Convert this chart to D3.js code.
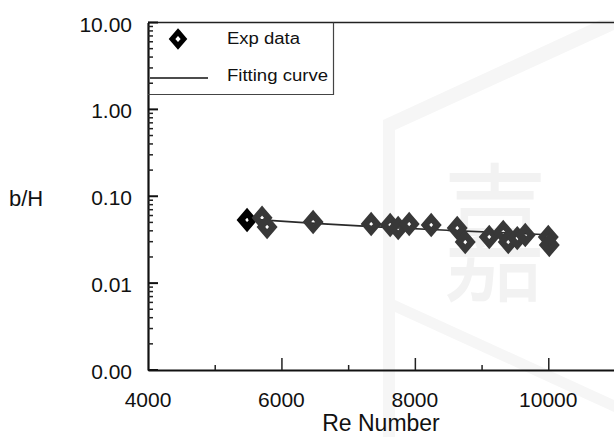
<!DOCTYPE html>
<html>
<head>
<meta charset="utf-8">
<script src="https://cdn.jsdelivr.net/npm/d3@7"></script>
<style>
html,body{margin:0;padding:0;background:#fff;}
svg{display:block;}
text{font-family:"Liberation Sans",Arial,sans-serif;fill:#111;}
</style>
</head>
<body>
<svg id="chart" width="614" height="437"></svg>
<script>
// ---- data ----
const reNumbers = [5485, 5710, 5785, 6475, 7345, 7630, 7750, 7915, 8245, 8635, 8755, 9115, 9325, 9400, 9535, 9655, 10000, 10015];
const bH        = [0.0533, 0.0565, 0.0443, 0.0505, 0.0479, 0.0467, 0.0431, 0.0479, 0.0467, 0.0431, 0.0297, 0.0340, 0.0388, 0.0297, 0.0330, 0.0358, 0.0340, 0.0275];
const fitRe     = [5500, 6500, 7500, 8500, 10000];
const fitBH     = [0.0547, 0.0487, 0.0441, 0.0405, 0.0361];
const xTicks    = [5000, 6000, 7000, 8000, 9000, 10000];
const xLabels   = [4000, 6000, 8000, 10000];
const yLabels   = [10, 1, 0.1, 0.01, 0.001];
const yLabelText = ["10.00", "1.00", "0.10", "0.01", "0.00"];
const legendItems = ["Exp data", "Fitting curve"];

const svg = d3.select("#chart");
const x = d3.scaleLinear().domain([4000, 11000]).range([148, 615]);
const y = d3.scaleLog().domain([0.001, 10]).range([370, 22.5]);

// faint watermark
const wm = svg.append("g").attr("fill", "#f6f6f6");
wm.append("polygon").attr("points", "383,120 395,118 395,437 383,437");
wm.append("polygon").attr("points", "383,120 600,20 614,20 614,30 395,130");
wm.append("polygon").attr("points", "395,300 614,400 614,412 395,312");
wm.append("text").text("嘉")
  .attr("transform", "translate(495,290) scale(1,1.45)")
  .attr("text-anchor", "middle")
  .style("font-family", "'Noto Sans CJK SC'")
  .style("font-size", "104px")
  .style("fill", "#f2f2f2");

// top border line
svg.append("line").attr("x1", 148).attr("x2", 614).attr("y1", 22.5).attr("y2", 22.5)
  .attr("stroke", "#222").attr("stroke-width", 1.5);

// X axis
const xAxisG = svg.append("g").attr("transform", `translate(0,${y(0.001)})`)
  .call(d3.axisBottom(x).tickValues(xTicks).tickSizeInner(0).tickSizeOuter(0).tickFormat(""));
xAxisG.select(".domain").attr("stroke", "#111").attr("stroke-width", 2);
xAxisG.selectAll(".tick line")
  .attr("y2", d => (d % 2000 === 0 ? -12 : -5))
  .attr("stroke", "#222").attr("stroke-width", 1.5);
svg.append("g").selectAll("text").data(xLabels).join("text")
  .attr("x", d => x(d)).attr("y", 407)
  .attr("text-anchor", "middle")
  .style("font-size", "21px")
  .text(d => d);
svg.append("text").attr("x", 381).attr("y", 431).attr("text-anchor", "middle")
  .style("font-size", "23px").text("Re Number");

// Y axis
const yAxisG = svg.append("g").attr("transform", `translate(${x(4000)},0)`)
  .call(d3.axisLeft(y).ticks(4).tickSizeInner(0).tickSizeOuter(0).tickFormat(""));
yAxisG.select(".domain").attr("stroke", "#111").attr("stroke-width", 2.2);
yAxisG.selectAll(".tick line").remove();
const minor = [];
for (let e = -3; e < 1; e++) for (let m = 2; m <= 9; m++) minor.push(m * Math.pow(10, e));
yAxisG.append("g").selectAll("line").data(minor).join("line")
  .attr("x1", 0).attr("x2", 5).attr("y1", d => y(d)).attr("y2", d => y(d))
  .attr("stroke", "#222").attr("stroke-width", 1.5);
yAxisG.append("g").selectAll("line").data(yLabels).join("line")
  .attr("x1", 0).attr("x2", 10).attr("y1", d => y(d)).attr("y2", d => y(d))
  .attr("stroke", "#111").attr("stroke-width", 2);
svg.append("g").selectAll("text").data(yLabels).join("text")
  .attr("x", 132).attr("y", d => y(d) + 9)
  .attr("text-anchor", "end")
  .style("font-size", "21px")
  .text((d, i) => yLabelText[i]);
svg.append("text").attr("x", 9).attr("y", 206).style("font-size", "22px").text("b/H");

// diamond path
function diamond(hw, hh) { return `M0,${-hh}L${hw},0L0,${hh}L${-hw},0Z`; }

// fitting curve
const fitData = fitRe.map((r, i) => [r, fitBH[i]]);
svg.append("path").datum(fitData)
  .attr("d", d3.line().x(d => x(d[0])).y(d => y(d[1])).curve(d3.curveMonotoneX))
  .attr("fill", "none").attr("stroke", "#2a2a2a").attr("stroke-width", 1.6);

// data points
const pts = reNumbers.map((r, i) => ({ r, v: bH[i], i }));
svg.append("g").selectAll("path").data(pts).join("path")
  .attr("transform", d => `translate(${x(d.r)},${y(d.v)})`)
  .attr("d", diamond(6.2, 7.2))
  .attr("fill", "none")
  .attr("stroke", d => (d.i === 0 ? "#000" : "#383838"))
  .attr("stroke-width", 6.5)
  .attr("stroke-linejoin", "miter");

// legend
const lg = svg.append("g");
lg.append("path").attr("d", "M148,94.5H333.5V22.5").attr("fill", "none").attr("stroke", "#444").attr("stroke-width", 1.2);
lg.append("path").attr("transform", "translate(178,39)").attr("d", diamond(6, 7))
  .attr("fill", "none").attr("stroke", "#000").attr("stroke-width", 5);
lg.append("line").attr("x1", 150).attr("x2", 208).attr("y1", 78).attr("y2", 78)
  .attr("stroke", "#111").attr("stroke-width", 1.4);
lg.selectAll("text.leg").data(legendItems).join("text").attr("class", "leg")
  .attr("x", 227).attr("y", (d, i) => (i === 0 ? 44 : 81))
  .attr("textLength", (d, i) => (i === 0 ? 73 : 101))
  .attr("lengthAdjust", "spacingAndGlyphs")
  .style("font-size", "16px")
  .text(d => d);
</script>
</body>
</html>
